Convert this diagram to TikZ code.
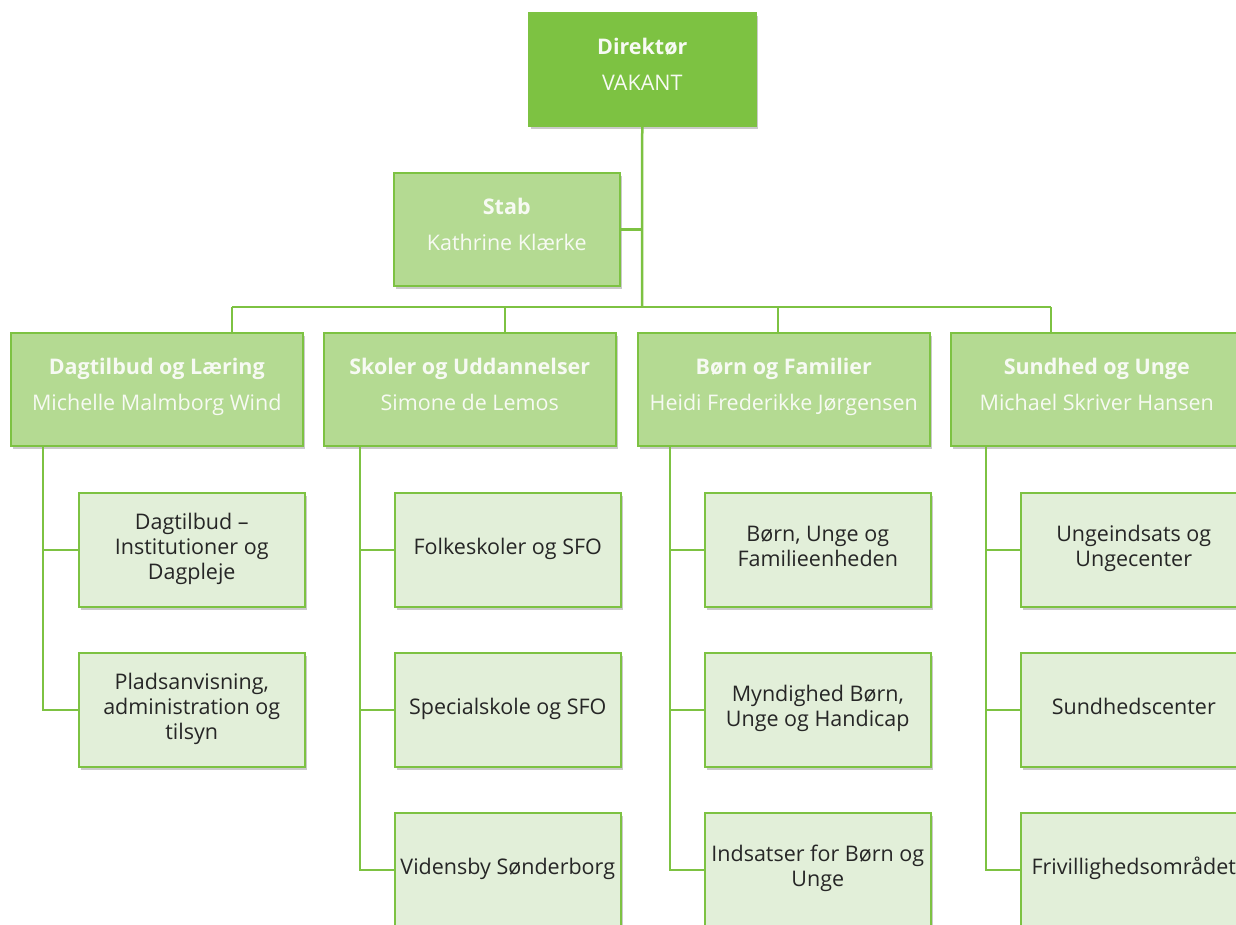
\documentclass[tikz,border=0pt]{standalone}
\usepackage{fontspec}
\setmainfont{Open Sans}
\usetikzlibrary{shadows}
\definecolor{gdark}{HTML}{7DC242}
\definecolor{gmid}{HTML}{B4DA92}
\definecolor{glight}{HTML}{E2EFD9}
\definecolor{tdark}{HTML}{262626}
\definecolor{tlight}{HTML}{F7FAF3}
\tikzset{
  base/.style={draw=gdark, line width=1.5pt, anchor=north west, align=center,
    inner sep=2pt, font=\fontsize{21.5}{25}\selectfont,
    execute at begin node=\strut, execute at end node=\strut,
    drop shadow={shadow xshift=2pt, shadow yshift=-3pt, opacity=0.35, fill=black!60}},
  topbox/.style={base, fill=gdark, text=tlight, minimum width=227pt, minimum height=113pt,
    font=\fontsize{21.5}{36}\selectfont},
  midbox/.style={base, fill=gmid, text=tlight, minimum width=292pt, minimum height=113pt,
    font=\fontsize{21.5}{36}\selectfont},
  stabbox/.style={base, fill=gmid, text=tlight, minimum width=226pt, minimum height=113pt,
    font=\fontsize{21.5}{36}\selectfont},
  subbox/.style={base, fill=glight, text=tdark, minimum width=226pt, minimum height=114pt},
  conn/.style={draw=gdark, line width=2.5pt}
}
\begin{document}
\begin{tikzpicture}[x=1pt, y=-1pt]
\useasboundingbox (0,0) rectangle (1236,924);
\clip (0,0) rectangle (1236,924);
% top
\node[topbox] (dir) at (528,12) {\textbf{Direktør}\\VAKANT};
\node[stabbox] (stab) at (393,172) {\textbf{Stab}\\Kathrine Klærke};
% level 2
\node[midbox] (da) at (10,332) {\textbf{Dagtilbud og Læring}\\Michelle Malmborg Wind};
\node[midbox] (sk) at (323,332) {\textbf{Skoler og Uddannelser}\\Simone de Lemos};
\node[midbox] (bf) at (637,332) {\textbf{Børn og Familier}\\Heidi Frederikke Jørgensen};
\node[midbox] (su) at (950,332) {\textbf{Sundhed og Unge}\\Michael Skriver Hansen};
% sub boxes
\node[subbox] (da1) at (78,492) {Dagtilbud –\\Institutioner og\\Dagpleje};
\node[subbox] (da2) at (78,652) {Pladsanvisning,\\administration og\\tilsyn};
\node[subbox] (sk1) at (394,492) {Folkeskoler og SFO};
\node[subbox] (sk2) at (394,652) {Specialskole og SFO};
\node[subbox] (sk3) at (394,812) {Vidensby Sønderborg};
\node[subbox] (bf1) at (704,492) {Børn, Unge og\\Familieenheden};
\node[subbox] (bf2) at (704,652) {Myndighed Børn,\\Unge og Handicap};
\node[subbox] (bf3) at (704,812) {Indsatser for Børn og\\Unge};
\node[subbox] (su1) at (1020,492) {Ungeindsats og\\Ungecenter};
\node[subbox] (su2) at (1020,652) {Sundhedscenter};
\node[subbox] (su3) at (1020,812) {Frivillighedsområdet};
% coordinates
\coordinate (bar) at (642,307);
\coordinate (xa) at (232,307);
\coordinate (xs) at (505,307);
\coordinate (xb) at (778,307);
\coordinate (xu) at (1051,307);
\coordinate (va) at (43,445);
\coordinate (vs) at (360,445);
\coordinate (vb) at (670,445);
\coordinate (vu) at (986,445);
% connectors
\draw[conn] (dir.south) -- (bar);
\draw[conn] (stab.east) -- (stab.east -| bar);
\draw[conn] (xa) -- (xu);
\draw[conn] (xa) -- (xa |- da.north);
\draw[conn] (xs) -- (xs |- sk.north);
\draw[conn] (xb) -- (xb |- bf.north);
\draw[conn] (xu) -- (xu |- su.north);
\draw[conn] (va) -- (va |- da2.west) -- (da2.west);
\draw[conn] (va |- da1.west) -- (da1.west);
\draw[conn] (vs) -- (vs |- sk3.west) -- (sk3.west);
\draw[conn] (vs |- sk1.west) -- (sk1.west);
\draw[conn] (vs |- sk2.west) -- (sk2.west);
\draw[conn] (vb) -- (vb |- bf3.west) -- (bf3.west);
\draw[conn] (vb |- bf1.west) -- (bf1.west);
\draw[conn] (vb |- bf2.west) -- (bf2.west);
\draw[conn] (vu) -- (vu |- su3.west) -- (su3.west);
\draw[conn] (vu |- su1.west) -- (su1.west);
\draw[conn] (vu |- su2.west) -- (su2.west);
\end{tikzpicture}
\end{document}
